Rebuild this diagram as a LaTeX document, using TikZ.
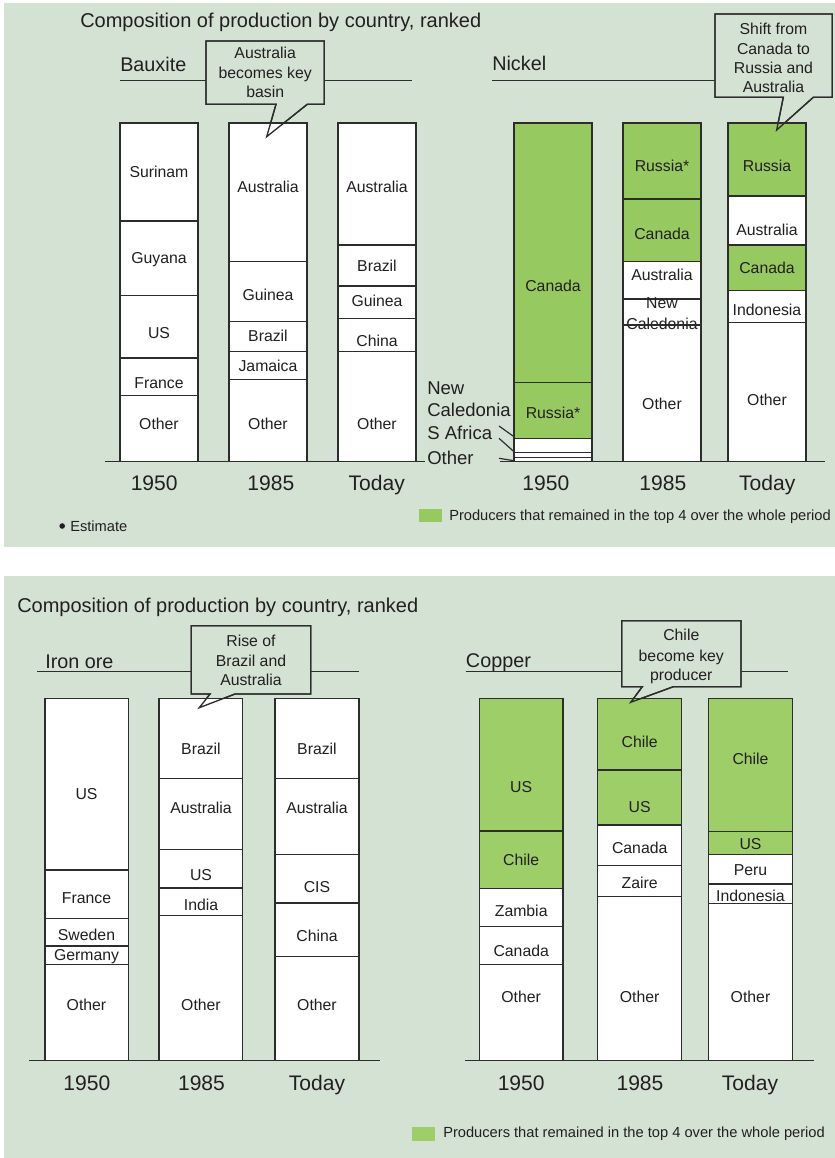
\documentclass[tikz,border=0pt]{standalone}
\usepackage{fontspec}
\setmainfont{Liberation Sans}
\definecolor{panel}{RGB}{212,226,212}
\definecolor{topgreen}{RGB}{150,201,95}
\definecolor{cugreen}{RGB}{158,206,103}
\definecolor{ink}{RGB}{35,31,32}
\definecolor{rulec}{RGB}{45,45,45}

% one segment of a stacked bar: x-left, x-right, y-top, y-bottom, fill
\newcommand\barpart[5]{\filldraw[seg,fill=#5] (#1,#3) rectangle (#2,#4);}
% speech-bubble: x1,y1,x2,y2 box, left foot, tip x, tip y, right foot
\newcommand\bubblefill[8]{\filldraw[seg,fill=panel] (#1,#2) -- (#3,#2) -- (#3,#4) -- (#8,#4) -- (#6,#7) -- (#5,#4) -- (#1,#4) -- cycle;}
\newcommand\bubbleline[8]{\draw[seg,line join=miter] (#1,#2) -- (#3,#2) -- (#3,#4) -- (#8,#4) -- (#6,#7) -- (#5,#4) -- (#1,#4) -- cycle;}

\begin{document}
\begin{tikzpicture}[x=0.75pt,y=-0.75pt,
  seg/.style={draw=rulec,line width=1pt},
  rulel/.style={draw=rulec,line width=1pt},
  axisl/.style={draw=rulec,line width=1.1pt},
  lab/.style={font=\fontsize{11.85}{14}\selectfont,text=ink,inner sep=0pt,text height=8.5pt,text depth=0pt},
  yr/.style={font=\fontsize{15.8}{18}\selectfont,text=ink,inner sep=0pt,text height=11.3pt,text depth=0pt},
  ttl/.style={font=\fontsize{15}{17}\selectfont,text=ink,inner sep=0pt,text height=10.7pt,text depth=0pt,anchor=west},
  head/.style={font=\fontsize{14.85}{17}\selectfont,text=ink,inner sep=0pt,text height=10.6pt,text depth=0pt,anchor=west},
  side/.style={font=\fontsize{13.9}{16}\selectfont,text=ink,inner sep=0pt,text height=9.9pt,text depth=0pt,anchor=west},
  leg/.style={font=\fontsize{11}{13}\selectfont,text=ink,inner sep=0pt,text height=7.9pt,text depth=0pt,anchor=west}]
\useasboundingbox (0,0) rectangle (835,1158);
\fill[white] (0,0) rectangle (835,1158);

% ---------- backgrounds ----------
\fill[panel] (4,3) rectangle (835,547);
\fill[panel] (4,576) rectangle (835,1158);

% ================= upper panel =================
\node[ttl] (title1) at (80,20) {Composition of production by country, ranked};
\node[head] (hbx) at (120,64.7) {Bauxite};
\draw[rulel] (120,80.7) -- (412.3,80.7);
\node[head] (hni) at (492,63.8) {Nickel};
\draw[rulel] (492.3,80.7) -- (760,80.7);

\bubblefill{206}{41}{324.3}{104.3}{276}{266.7}{136.7}{307.3}
\bubblefill{715}{14}{832.3}{97.3}{783.3}{776.7}{130}{813.3}

% Bauxite 1950
\barpart{120}{198}{123}{221}{white}
\barpart{120}{198}{221}{295.7}{white}
\barpart{120}{198}{295.7}{358}{white}
\barpart{120}{198}{358}{395.7}{white}
\barpart{120}{198}{395.7}{461.7}{white}
% Bauxite 1985
\barpart{229}{307}{123}{261.7}{white}
\barpart{229}{307}{261.7}{321.7}{white}
\barpart{229}{307}{321.7}{351.7}{white}
\barpart{229}{307}{351.7}{379.3}{white}
\barpart{229}{307}{379.3}{461.7}{white}
% Bauxite today
\barpart{338}{416}{123}{245}{white}
\barpart{338}{416}{245}{286}{white}
\barpart{338}{416}{286}{318.3}{white}
\barpart{338}{416}{318.3}{351.7}{white}
\barpart{338}{416}{351.7}{461.7}{white}

% Nickel 1950
\barpart{514}{592}{123}{382.3}{topgreen}
\barpart{514}{592}{382.3}{438.3}{topgreen}
\barpart{514}{592}{438.3}{452.3}{white}
\barpart{514}{592}{452.3}{457.7}{white}
\barpart{514}{592}{457.7}{461.7}{white}
% Nickel 1985
\barpart{623}{701}{123}{199}{topgreen}
\barpart{623}{701}{199}{261.7}{topgreen}
\barpart{623}{701}{261.7}{299}{white}
\barpart{623}{701}{299}{325}{white}
\barpart{623}{701}{325}{461.7}{white}
% Nickel today
\barpart{728}{806}{123}{196}{topgreen}
\barpart{728}{806}{196}{245}{white}
\barpart{728}{806}{245}{290.7}{topgreen}
\barpart{728}{806}{290.7}{322.7}{white}
\barpart{728}{806}{322.7}{461.7}{white}

% bar labels, bauxite
\node[lab] (bxa1) at (159,171.7) {Surinam};
\node[lab] (bxa2) at (159,257.8) {Guyana};
\node[lab] (bxa3) at (159,332.5) {US};
\node[lab] (bxa4) at (159,382.8) {France};
\node[lab] (bxa5) at (159,423.5) {Other};
\node[lab] (bxb1) at (268,187.2) {Australia};
\node[lab] (bxb2) at (268,294.7) {Guinea};
\node[lab] (bxb3) at (268,335.5) {Brazil};
\node[lab] (bxb4) at (268,366.3) {Jamaica};
\node[lab] (bxb5) at (268,423.5) {Other};
\node[lab] (bxc1) at (377,187.2) {Australia};
\node[lab] (bxc2) at (377,266.3) {Brazil};
\node[lab] (bxc3) at (377,300.5) {Guinea};
\node[lab] (bxc4) at (377,340.5) {China};
\node[lab] (bxc5) at (377,423.5) {Other};

% bar labels, nickel
\node[lab] (nia1) at (553,285.8) {Canada};
\node[lab] (nia2) at (553,413) {Russia*};
\node[lab] (nib1) at (662,166) {Russia*};
\node[lab] (nib2) at (662,233.5) {Canada};
\node[lab] (nib3) at (662,274.5) {Australia};
\node[lab] (nib4) at (662,303.3) {New};
\node[lab] (nib5) at (662,323.8) {Caledonia};
\node[lab] (nib6) at (662,403.8) {Other};
\node[lab] (nic1) at (767,166) {Russia};
\node[lab] (nic2) at (767,230) {Australia};
\node[lab] (nic3) at (767,268) {Canada};
\node[lab] (nic4) at (767,310) {Indonesia};
\node[lab] (nic5) at (767,399.5) {Other};
\draw[seg] (623,325) -- (701,325);

% small 1950 nickel producers, labelled outside the bar
\node[side] (snc1) at (427,387.5) {New};
\node[side] (snc2) at (427,409.5) {Caledonia};
\node[side] (ssa) at (427,432.5) {S Africa};
\node[side] (sot) at (427,457.5) {Other};
\coordinate (k1a) at (499,426);   \coordinate (k1b) at (514,436.7);
\coordinate (k2a) at (499,438.3); \coordinate (k2b) at (514,451.7);
\coordinate (k3a) at (499,458.3); \coordinate (k3b) at (514,460.7);
\draw[rulec,line width=0.9pt] (k1a) -- (k1b);
\draw[rulec,line width=0.9pt] (k2a) -- (k2b);
\draw[rulec,line width=0.9pt] (k3a) -- (k3b);

% axes
\draw[axisl] (105,461.7) -- (425,461.7);
\draw[axisl] (500,461.7) -- (825,461.7);

% bubbles outlines and text
\bubbleline{206}{41}{324.3}{104.3}{276}{266.7}{136.7}{307.3}
\node[lab] (ca1) at (265.2,52.5) {Australia};
\node[lab] (ca2) at (265.2,72.8) {becomes key};
\node[lab] (ca3) at (265.2,91.7) {basin};
\bubbleline{715}{14}{832.3}{97.3}{783.3}{776.7}{130}{813.3}
\node[lab] (cb1) at (773.5,28.5) {Shift from};
\node[lab] (cb2) at (773.5,48.5) {Canada to};
\node[lab] (cb3) at (773.5,67.5) {Russia and};
\node[lab] (cb4) at (773.5,86.7) {Australia};

% years
\node[yr] (ya1) at (154.2,482.5) {1950};
\node[yr] (ya2) at (270.8,482.5) {1985};
\node[yr] (ya3) at (376.8,482.5) {Today};
\node[yr] (yb1) at (545.8,482.5) {1950};
\node[yr] (yb2) at (662.8,482.5) {1985};
\node[yr] (yb3) at (767.2,482.5) {Today};

% notes
\fill[ink] (62.2,526) circle (2.8);
\node[leg] (est) at (70,526) {Estimate};
\fill[topgreen] (419,509) rectangle (442,522);
\node[leg] (lg1) at (449,515) {Producers that remained in the top 4 over the whole period};

% ================= lower panel =================
\node[ttl] (title2) at (17,605) {Composition of production by country, ranked};
\node[head] (hir) at (45,661) {Iron ore};
\draw[rulel] (37.3,671.7) -- (359,671.7);
\node[head] (hcu) at (465.7,660) {Copper};
\draw[rulel] (465.7,671.7) -- (788.3,671.7);

\bubblefill{191.3}{625.7}{310.7}{694}{210}{199.3}{707.7}{235}
\bubblefill{621.7}{620.7}{741}{686.7}{642.3}{630.7}{702.3}{673.3}

% Iron ore 1950
\barpart{45}{128.3}{698.3}{870}{white}
\barpart{45}{128.3}{870}{918.3}{white}
\barpart{45}{128.3}{918.3}{946}{white}
\barpart{45}{128.3}{946}{964.3}{white}
\barpart{45}{128.3}{964.3}{1060.7}{white}
% Iron ore 1985
\barpart{159}{242.7}{698.3}{778.7}{white}
\barpart{159}{242.7}{778.7}{849.3}{white}
\barpart{159}{242.7}{849.3}{888}{white}
\barpart{159}{242.7}{888}{915.7}{white}
\barpart{159}{242.7}{915.7}{1060.7}{white}
% Iron ore today
\barpart{275}{359}{698.3}{778.7}{white}
\barpart{275}{359}{778.7}{854.3}{white}
\barpart{275}{359}{854.3}{903}{white}
\barpart{275}{359}{903}{956.7}{white}
\barpart{275}{359}{956.7}{1060.7}{white}

% Copper 1950
\barpart{479.3}{563}{698.3}{831}{cugreen}
\barpart{479.3}{563}{831}{888.3}{cugreen}
\barpart{479.3}{563}{888.3}{926.3}{white}
\barpart{479.3}{563}{926.3}{964.3}{white}
\barpart{479.3}{563}{964.3}{1060.7}{white}
% Copper 1985
\barpart{597.7}{681.7}{698.3}{770}{cugreen}
\barpart{597.7}{681.7}{770}{825}{cugreen}
\barpart{597.7}{681.7}{825}{865.7}{white}
\barpart{597.7}{681.7}{865.7}{896.7}{white}
\barpart{597.7}{681.7}{896.7}{1060.7}{white}
% Copper today
\barpart{708.7}{792.3}{698.3}{831.3}{cugreen}
\barpart{708.7}{792.3}{831.3}{854.3}{cugreen}
\barpart{708.7}{792.3}{854.3}{884}{white}
\barpart{708.7}{792.3}{884}{903.3}{white}
\barpart{708.7}{792.3}{903.3}{1060.7}{white}

% bar labels, iron ore
\node[lab] (ira1) at (86.5,793.8) {US};
\node[lab] (ira2) at (86.5,897.8) {France};
\node[lab] (ira3) at (86.5,935.2) {Sweden};
\node[lab] (ira4) at (86.5,954.7) {Germany};
\node[lab] (ira5) at (86.5,1004.7) {Other};
\node[lab] (irb1) at (201,748.7) {Brazil};
\node[lab] (irb2) at (201,807.8) {Australia};
\node[lab] (irb3) at (201,874.7) {US};
\node[lab] (irb4) at (201,904.5) {India};
\node[lab] (irb5) at (201,1004.7) {Other};
\node[lab] (irc1) at (317,748.7) {Brazil};
\node[lab] (irc2) at (317,807.8) {Australia};
\node[lab] (irc3) at (317,886.7) {CIS};
\node[lab] (irc4) at (317,935.8) {China};
\node[lab] (irc5) at (317,1004.7) {Other};

% bar labels, copper
\node[lab] (cua1) at (521.2,787.2) {US};
\node[lab] (cua2) at (521.2,859.8) {Chile};
\node[lab] (cua3) at (521.2,910.5) {Zambia};
\node[lab] (cua4) at (521.2,951.2) {Canada};
\node[lab] (cua5) at (521.2,996.7) {Other};
\node[lab] (cub1) at (639.7,741.5) {Chile};
\node[lab] (cub2) at (639.7,807.2) {US};
\node[lab] (cub3) at (639.7,848.3) {Canada};
\node[lab] (cub4) at (639.7,882.5) {Zaire};
\node[lab] (cub5) at (639.7,996.7) {Other};
\node[lab] (cuc1) at (750.5,759.2) {Chile};
\node[lab] (cuc2) at (750.5,844.2) {US};
\node[lab] (cuc3) at (750.5,869.5) {Peru};
\node[lab] (cuc4) at (750.5,895.5) {Indonesia};
\node[lab] (cuc5) at (750.5,996.7) {Other};

% axes
\draw[axisl] (29,1060.7) -- (380,1060.7);
\draw[axisl] (465,1060.7) -- (814.3,1060.7);

% bubbles outlines and text
\bubbleline{191.3}{625.7}{310.7}{694}{210}{199.3}{707.7}{235}
\node[lab] (cc1) at (251,641.2) {Rise of};
\node[lab] (cc2) at (251,660.5) {Brazil and};
\node[lab] (cc3) at (251,679.7) {Australia};
\bubbleline{621.7}{620.7}{741}{686.7}{642.3}{630.7}{702.3}{673.3}
\node[lab] (cd1) at (681.3,635.2) {Chile};
\node[lab] (cd2) at (681.3,655.8) {become key};
\node[lab] (cd3) at (681.3,674.7) {producer};

% years
\node[yr] (yc1) at (86.8,1082.5) {1950};
\node[yr] (yc2) at (201.5,1082.5) {1985};
\node[yr] (yc3) at (317,1082.5) {Today};
\node[yr] (yd1) at (521.2,1082.5) {1950};
\node[yr] (yd2) at (640,1082.5) {1985};
\node[yr] (yd3) at (750,1082.5) {Today};

% legend
\fill[cugreen] (412.3,1126.7) rectangle (435,1140.7);
\node[leg] (lg2) at (443,1132.5) {Producers that remained in the top 4 over the whole period};
\end{tikzpicture}
\end{document}
